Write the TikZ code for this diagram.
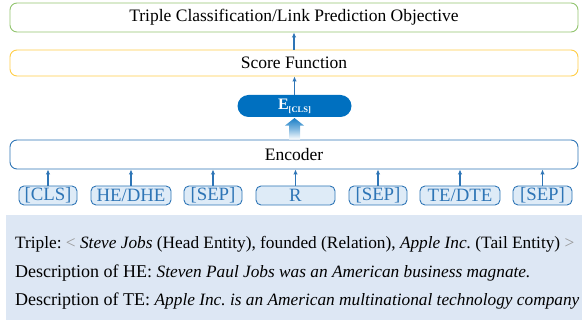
\documentclass[tikz,border=0pt]{standalone}
\usepackage{fontspec}
\setmainfont{Liberation Serif}
\usetikzlibrary{arrows.meta}
\definecolor{lineblue}{RGB}{46,117,182}
\definecolor{tokfill}{RGB}{222,235,247}
\definecolor{ecls}{RGB}{0,112,192}
\definecolor{panel}{RGB}{221,231,244}
\definecolor{greenb}{RGB}{146,196,110}
\definecolor{yellowb}{RGB}{255,205,70}
\definecolor{ltgray}{RGB}{150,150,150}
\newcommand{\itl}[1]{{\fontsize{17.3}{20}\selectfont\itshape #1}}
\begin{document}
\frenchspacing
\begin{tikzpicture}[x=1pt,y=-1pt,
  bigbox/.style={draw, rounded corners=7pt, line width=0.9pt, minimum width=568pt, inner sep=0pt, font=\fontsize{17.5}{20}\selectfont},
  token/.style={draw=lineblue, fill=tokfill, rounded corners=5pt, line width=0.9pt, minimum height=19pt, inner sep=0pt, text=lineblue, font=\fontsize{18.8}{20}\selectfont},
  arr/.style={draw=lineblue, line width=1.1pt, -{Latex[length=5pt,width=4.5pt]}},
  desc/.style={anchor=base west, inner sep=0pt, font=\fontsize{18}{20}\selectfont}
]
\useasboundingbox (0,0) rectangle (582,320);
% bottom panel
\fill[panel] (6,215) rectangle (600,330);
% boxes
\node[bigbox, draw=greenb, minimum height=29pt] (obj) at (294,17.5) {Triple Classification/Link Prediction Objective};
\node[bigbox, draw=yellowb, minimum height=26pt] (score) at (294,63) {Score Function};
\node[bigbox, draw=lineblue, minimum height=29pt] (enc) at (294,154.5) {Encoder};
\node[fill=ecls, rounded corners=11pt, minimum width=114pt, minimum height=22pt, inner sep=0pt, text=white,
      font=\fontsize{16}{18}\selectfont\bfseries] (ecls) at (294.5,106) {E\raisebox{-0.45ex}{\fontsize{8.5}{9}\selectfont[CLS]}};
% tokens
\node[token, minimum width=58pt] (t1) at (48,195.5) {[CLS]};
\node[token, minimum width=80pt] (t2) at (131,195.5) {HE/DHE};
\node[token, minimum width=58pt] (t3) at (213,195.5) {[SEP]};
\node[token, minimum width=79pt] (t4) at (295.5,195.5) {R};
\node[token, minimum width=58pt] (t5) at (378,195.5) {[SEP]};
\node[token, minimum width=80pt] (t6) at (460,195.5) {TE/DTE};
\node[token, minimum width=59pt] (t7) at (542.5,195.5) {[SEP]};
\foreach \t in {t1,t2,t3,t4,t5,t6,t7}
  \draw[arr] (\t.north) -- (\t.north |- enc.south);
% arrows
\draw[arr] (ecls.north) -- (ecls.north |- score.south);
\draw[arr] (score.north) -- (score.north |- obj.south);
% fat arrow
\coordinate (fb) at (enc.north -| ecls.south);
\shade[top color=ecls!90, bottom color=white, middle color=ecls!50]
  ([xshift=-5.5pt]fb) -- ([xshift=-5.5pt,yshift=14pt]fb) -- ([xshift=-9.5pt,yshift=14pt]fb)
  -- ([yshift=21.5pt]fb) -- ([xshift=9.5pt,yshift=14pt]fb) -- ([xshift=5.5pt,yshift=14pt]fb)
  -- ([xshift=5.5pt]fb) -- cycle;
% description text
\node[desc, font=\fontsize{17.3}{20}\selectfont] (l1) at (15,249) {Triple: \textcolor{ltgray}{<} \itl{Steve Jobs} (Head Entity), founded (Relation), \itl{Apple Inc.} (Tail Entity) \textcolor{ltgray}{>}};
\node[desc] (l2) at (15,278) {Description of HE: \itl{Steven Paul Jobs was an American business magnate.}};
\node[desc] (l3) at (15,306) {Description of TE: \itl{Apple Inc. is an American multinational technology company}};
\end{tikzpicture}
\end{document}
